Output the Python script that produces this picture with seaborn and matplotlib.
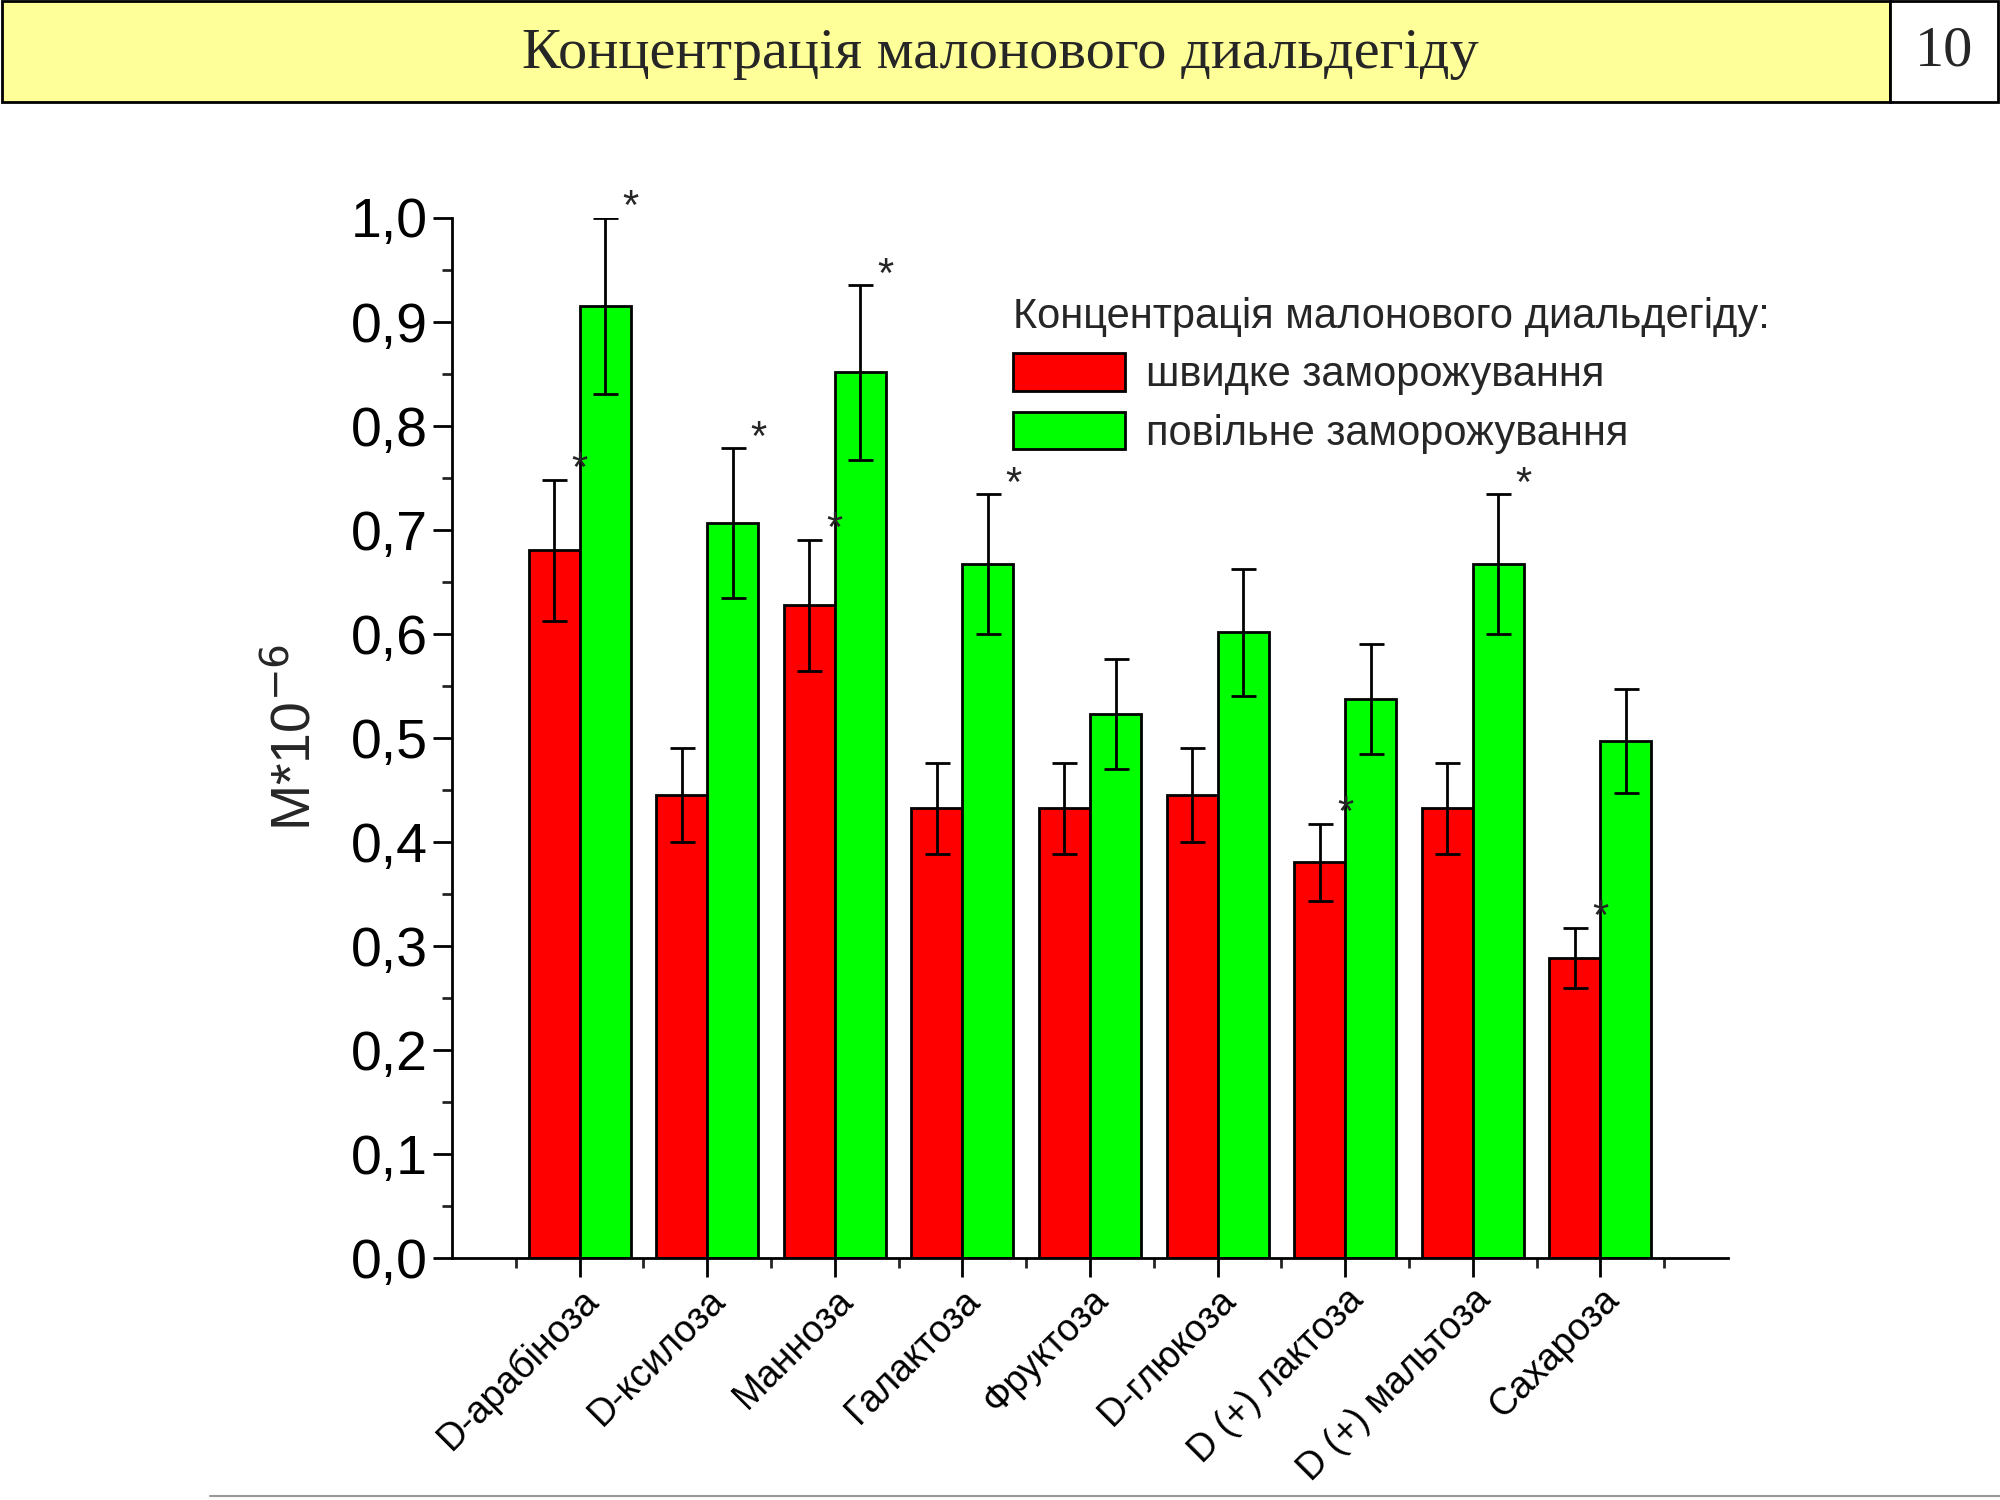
import matplotlib
matplotlib.use("Agg")
import matplotlib.pyplot as plt
from matplotlib.patches import Rectangle
from matplotlib.ticker import MultipleLocator
import seaborn as sns
import pandas as pd
import numpy as np

# Data
sugars = ["D-арабіноза", "D-ксилоза", "Манноза", "Галактоза", "Фруктоза",
          "D-глюкоза", "D (+) лактоза", "D (+) мальтоза", "Сахароза"]
fast = [0.680, 0.445, 0.627, 0.432, 0.432, 0.445, 0.380, 0.432, 0.288]
fast_err = [0.068, 0.045, 0.063, 0.044, 0.044, 0.045, 0.037, 0.044, 0.029]
slow = [0.915, 0.706, 0.851, 0.667, 0.523, 0.601, 0.537, 0.667, 0.497]
slow_err = [0.085, 0.072, 0.084, 0.067, 0.053, 0.061, 0.053, 0.067, 0.050]
fast_star = [True, False, True, False, False, False, True, False, True]
slow_star = [True, True, True, True, False, False, False, True, False]
series = ["швидке заморожування", "повільне заморожування"]

df = pd.DataFrame({
    "sugar": sugars * 2,
    "value": fast + slow,
    "series": [series[0]] * 9 + [series[1]] * 9,
})

sns.set_style("ticks")
plt.rcParams['font.family'] = ['Liberation Sans', 'DejaVu Sans']

fig = plt.figure(figsize=(20, 15), dpi=100)
ax = fig.add_axes([0.226, 0.1616, 0.638, 0.6934])

sns.barplot(data=df, x="sugar", y="value", hue="series", order=sugars,
            palette=["#ff0000", "#00ff00"], width=0.8, edgecolor="black",
            linewidth=2, saturation=1, ax=ax)

# error bars and significance stars
for k, (vals, errs, stars) in enumerate([(fast, fast_err, fast_star), (slow, slow_err, slow_star)]):
    xs = np.arange(len(sugars)) + (-0.2 if k == 0 else 0.2)
    ax.errorbar(xs, vals, yerr=errs, fmt="none", ecolor="black", elinewidth=2,
                capsize=9, capthick=2)
    for x, v, e, s in zip(xs, vals, errs, stars):
        if s:
            ax.text(x + 0.2, v + e - 0.01, "*", fontsize=30, ha="center", va="bottom")

ax.set_xlim(-1, 9)
ax.set_ylim(0, 1.0)
ax.yaxis.set_major_locator(MultipleLocator(0.1))
ax.yaxis.set_minor_locator(MultipleLocator(0.05))
ax.set_xticks(np.arange(-0.5, 9, 1.0), minor=True)
ax.yaxis.set_major_formatter(matplotlib.ticker.FuncFormatter(lambda v, p: f"{v:.1f}".replace(".", ",")))
ax.tick_params(axis="both", which="major", length=14, width=2, direction="out", labelsize=40, colors="black")
ax.tick_params(axis="both", which="minor", length=7, width=2, direction="out")
ax.tick_params(axis="x", labelsize=27)
plt.setp(ax.get_xticklabels(), rotation=45, ha="right", rotation_mode="anchor")
ax.set_xlabel("")
ax.set_ylabel("M*10$^{-6}$", fontsize=40, labelpad=20)
sns.despine(ax=ax)
for sp in ["left", "bottom"]:
    ax.spines[sp].set_linewidth(2)
    ax.spines[sp].set_color("black")

leg = ax.legend(title="Концентрація малонового диальдегіду:", loc="upper left",
                bbox_to_anchor=(0.41, 0.96), frameon=False, fontsize=30,
                title_fontsize=30, handlelength=2.7, handleheight=1.0,
                handletextpad=0.5, labelspacing=0.4)
leg._legend_box.align = "left"

# header bar
fig.patches.append(Rectangle((0.001, 0.932), 0.944, 0.067, transform=fig.transFigure,
                             facecolor="#ffff99", edgecolor="black", linewidth=2))
fig.patches.append(Rectangle((0.945, 0.932), 0.054, 0.067, transform=fig.transFigure,
                             facecolor="white", edgecolor="black", linewidth=2))
fig.text(0.5, 0.964, "Концентрація малонового диальдегіду", fontsize=42,
         family=["Liberation Serif", "DejaVu Serif"], ha="center", va="center")
fig.text(0.972, 0.966, "10", fontsize=42, family=["Liberation Serif", "DejaVu Serif"],
         ha="center", va="center")
fig.add_artist(plt.Line2D([0.105, 1.0], [0.003, 0.003], color="#999999", linewidth=1.5))

fig.savefig("out.png", dpi=100)
